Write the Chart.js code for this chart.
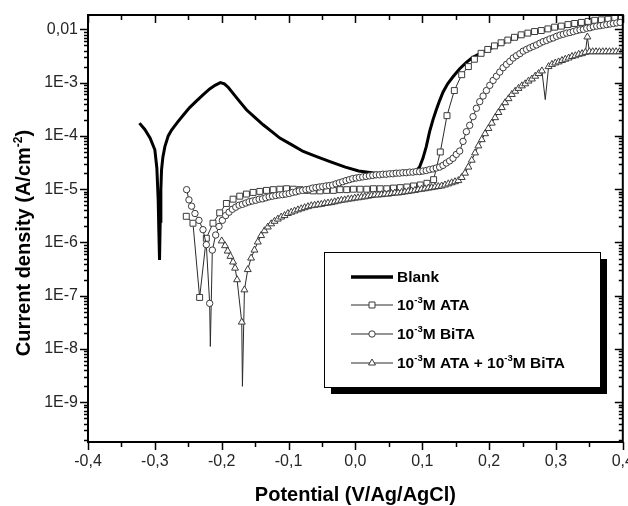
<!DOCTYPE html>
<html>
<head>
<meta charset="utf-8">
<script src="https://cdn.jsdelivr.net/npm/chart.js@4.4.1/dist/chart.umd.min.js"></script>
<style>
html,body{margin:0;padding:0;background:#fff;}
canvas{display:block;}
</style>
</head>
<body>
<canvas id="c" width="628" height="506"></canvas>
<script>
// ---------------- DATA ----------------
const seriesNames = ['Blank', '10^{-3}M ATA', '10^{-3}M BiTA', '10^{-3}M ATA + 10^{-3}M BiTA'];

const xTickValues = [-0.4, -0.3, -0.2, -0.1, 0.0, 0.1, 0.2, 0.3, 0.4];
const xTickLabels = ['-0,4', '-0,3', '-0,2', '-0,1', '0,0', '0,1', '0,2', '0,3', '0,4'];
const yTickValues = [1e-9, 1e-8, 1e-7, 1e-6, 1e-5, 1e-4, 1e-3, 1e-2];
const yTickLabels = ['1E-9', '1E-8', '1E-7', '1E-6', '1E-5', '1E-4', '1E-3', '0,01'];

const xTitle = 'Potential (V/Ag/AgCl)';
const yTitle = 'Current density (A/cm^{-2})';

// Blank
const blankV = [-0.323,-0.315,-0.307,-0.300,-0.297,-0.295,-0.294,-0.293,-0.292,-0.291,-0.290,-0.288,-0.285,-0.280,-0.275,-0.266,-0.257,-0.248,-0.238,-0.228,-0.218,-0.210,-0.202,-0.196,-0.190,-0.183,-0.173,-0.163,-0.150,-0.138,-0.125,-0.113,-0.095,-0.078,-0.058,-0.038,-0.015,0.005,0.030,0.056,0.080,0.091,0.096,0.101,0.106,0.111,0.116,0.121,0.126,0.131,0.138,0.146,0.156,0.166,0.175,0.190,0.210,0.230,0.250,0.280,0.310,0.340,0.370,0.400];
const blankI = [1.74e-4,1.32e-4,9.1e-5,5.5e-5,2.5e-5,6.3e-6,1.6e-6,4.7e-7,2.5e-6,1.0e-5,2.3e-5,4.0e-5,6.3e-5,1.0e-4,1.29e-4,1.82e-4,2.5e-4,3.4e-4,4.5e-4,5.9e-4,7.6e-4,8.9e-4,1.0e-3,9.5e-4,8.1e-4,6.3e-4,4.4e-4,3.1e-4,2.2e-4,1.62e-4,1.2e-4,9.1e-5,6.8e-5,5.1e-5,4.1e-5,3.3e-5,2.6e-5,2.2e-5,2.0e-5,2.0e-5,2.1e-5,2.2e-5,2.6e-5,3.8e-5,6.3e-5,1.2e-4,2.0e-4,3.1e-4,4.6e-4,6.6e-4,9.5e-4,1.29e-3,1.82e-3,2.4e-3,2.95e-3,3.7e-3,4.9e-3,6.3e-3,7.8e-3,9.5e-3,1.12e-2,1.29e-2,1.45e-2,1.58e-2];

// 10^-3 M ATA (squares)
const ataV = [-0.253,-0.243,-0.233,-0.223,-0.213,-0.203,-0.193,-0.183,-0.173,-0.163,-0.153,-0.143,-0.133,-0.123,-0.113,-0.103,-0.093,-0.083,-0.073,-0.063,-0.053,-0.043,-0.033,-0.023,-0.013,-0.003,0.007,0.017,0.027,0.037,0.047,0.057,0.067,0.077,0.087,0.097,0.107,0.117,0.127,0.137,0.148,0.159,0.169,0.178,0.188,0.198,0.208,0.218,0.228,0.238,0.248,0.258,0.268,0.278,0.288,0.298,0.308,0.318,0.328,0.338,0.348,0.358,0.368,0.378,0.388,0.398];
const ataI = [3.1e-6,2.3e-6,9.3e-8,1.2e-6,2.3e-6,3.6e-6,5.4e-6,6.5e-6,7.4e-6,8.1e-6,8.7e-6,9.1e-6,9.5e-6,9.8e-6,1.0e-5,1.02e-5,1.0e-5,9.8e-6,9.5e-6,9.3e-6,9.3e-6,9.5e-6,9.5e-6,9.8e-6,9.8e-6,1.0e-5,1.0e-5,1.0e-5,1.02e-5,1.02e-5,1.02e-5,1.05e-5,1.07e-5,1.1e-5,1.15e-5,1.2e-5,1.29e-5,1.51e-5,5.0e-5,2.4e-4,7.1e-4,1.41e-3,2.0e-3,2.75e-3,3.55e-3,4.2e-3,4.9e-3,5.6e-3,6.3e-3,7.1e-3,7.9e-3,8.5e-3,9.1e-3,9.5e-3,1.02e-2,1.1e-2,1.15e-2,1.23e-2,1.29e-2,1.35e-2,1.41e-2,1.48e-2,1.51e-2,1.55e-2,1.62e-2,1.66e-2];

// 10^-3 M BiTA (circles)
const bitaV = [-0.2525,-0.249,-0.245,-0.240,-0.234,-0.228,-0.223,-0.218,-0.217,-0.214,-0.209,-0.204,-0.199,-0.194,-0.189,-0.184,-0.179,-0.174,-0.169,-0.164,-0.159,-0.154,-0.149,-0.144,-0.139,-0.134,-0.129,-0.124,-0.119,-0.114,-0.109,-0.104,-0.099,-0.094,-0.089,-0.084,-0.079,-0.074,-0.069,-0.064,-0.059,-0.054,-0.049,-0.044,-0.039,-0.034,-0.029,-0.024,-0.019,-0.014,-0.009,-0.004,0.001,0.006,0.011,0.016,0.021,0.026,0.031,0.036,0.041,0.046,0.051,0.056,0.061,0.066,0.071,0.076,0.081,0.086,0.091,0.096,0.101,0.106,0.111,0.116,0.121,0.126,0.131,0.136,0.141,0.146,0.151,0.156,0.161,0.166,0.171,0.176,0.181,0.186,0.191,0.196,0.201,0.206,0.211,0.216,0.221,0.226,0.231,0.236,0.241,0.246,0.251,0.256,0.261,0.266,0.271,0.276,0.281,0.286,0.291,0.296,0.301,0.306,0.311,0.316,0.321,0.326,0.331,0.336,0.341,0.346,0.351,0.356,0.361,0.366,0.371,0.376,0.381,0.386,0.391,0.396];
const bitaI = [9.8e-6,6.3e-6,4.8e-6,3.5e-6,2.6e-6,1.74e-6,9.1e-7,7.2e-8,1.12e-8,7.2e-7,1.38e-6,2.0e-6,2.6e-6,3.2e-6,3.7e-6,4.2e-6,4.6e-6,5.0e-6,5.2e-6,5.5e-6,5.8e-6,6.0e-6,6.2e-6,6.5e-6,6.6e-6,6.9e-6,7.2e-6,7.4e-6,7.6e-6,7.8e-6,7.9e-6,8.1e-6,8.3e-6,8.7e-6,8.9e-6,9.3e-6,9.5e-6,9.8e-6,1.0e-5,1.05e-5,1.07e-5,1.1e-5,1.12e-5,1.15e-5,1.17e-5,1.2e-5,1.26e-5,1.32e-5,1.38e-5,1.45e-5,1.51e-5,1.58e-5,1.62e-5,1.66e-5,1.7e-5,1.74e-5,1.78e-5,1.82e-5,1.86e-5,1.86e-5,1.91e-5,1.91e-5,1.95e-5,1.95e-5,2.0e-5,2.0e-5,2.04e-5,2.04e-5,2.09e-5,2.09e-5,2.14e-5,2.14e-5,2.19e-5,2.24e-5,2.34e-5,2.4e-5,2.5e-5,2.6e-5,2.8e-5,3.1e-5,3.4e-5,3.8e-5,4.5e-5,5.2e-5,7.9e-5,1.2e-4,1.58e-4,2.3e-4,3.3e-4,4.4e-4,5.6e-4,7.1e-4,8.9e-4,1.1e-3,1.32e-3,1.58e-3,1.91e-3,2.2e-3,2.5e-3,2.9e-3,3.2e-3,3.5e-3,3.9e-3,4.2e-3,4.5e-3,4.8e-3,5.1e-3,5.5e-3,5.9e-3,6.2e-3,6.6e-3,6.9e-3,7.4e-3,7.8e-3,8.1e-3,8.5e-3,8.7e-3,9.1e-3,9.5e-3,9.8e-3,1.0e-2,1.05e-2,1.07e-2,1.12e-2,1.15e-2,1.17e-2,1.2e-2,1.23e-2,1.26e-2,1.29e-2,1.32e-2,1.35e-2];

// 10^-3 M ATA + 10^-3 M BiTA (triangles)
const mixV = [-0.200,-0.195,-0.191,-0.187,-0.183,-0.180,-0.177,-0.170,-0.169,-0.166,-0.161,-0.156,-0.151,-0.146,-0.141,-0.136,-0.131,-0.126,-0.121,-0.116,-0.111,-0.106,-0.101,-0.096,-0.091,-0.086,-0.081,-0.076,-0.071,-0.066,-0.061,-0.056,-0.051,-0.046,-0.041,-0.036,-0.031,-0.026,-0.021,-0.016,-0.011,-0.006,-0.001,0.004,0.009,0.014,0.019,0.024,0.029,0.034,0.039,0.044,0.049,0.054,0.059,0.064,0.069,0.074,0.079,0.084,0.089,0.094,0.099,0.104,0.109,0.114,0.119,0.124,0.129,0.134,0.139,0.144,0.149,0.154,0.159,0.164,0.169,0.174,0.179,0.184,0.189,0.194,0.199,0.204,0.209,0.214,0.219,0.224,0.229,0.234,0.239,0.244,0.249,0.254,0.259,0.264,0.269,0.274,0.279,0.284,0.289,0.294,0.299,0.304,0.309,0.314,0.319,0.324,0.329,0.334,0.339,0.344,0.347,0.350,0.355,0.360,0.365,0.370,0.375,0.380,0.385,0.390,0.395,0.400];
const mixI = [1.07e-6,8.7e-7,6.9e-7,5.5e-7,4.3e-7,3.3e-7,2.0e-7,3.2e-8,2.0e-9,1.29e-7,3.1e-7,5.1e-7,7.2e-7,1.02e-6,1.35e-6,1.66e-6,1.95e-6,2.24e-6,2.5e-6,2.75e-6,3.0e-6,3.2e-6,3.5e-6,3.7e-6,3.9e-6,4.1e-6,4.3e-6,4.5e-6,4.7e-6,4.9e-6,5.0e-6,5.1e-6,5.2e-6,5.4e-6,5.5e-6,5.6e-6,5.8e-6,6.0e-6,6.2e-6,6.3e-6,6.5e-6,6.6e-6,6.8e-6,6.9e-6,7.1e-6,7.2e-6,7.4e-6,7.6e-6,7.8e-6,7.8e-6,7.9e-6,8.1e-6,8.1e-6,8.3e-6,8.5e-6,8.5e-6,8.7e-6,8.9e-6,9.1e-6,9.3e-6,9.5e-6,9.8e-6,1.0e-5,1.02e-5,1.05e-5,1.07e-5,1.1e-5,1.12e-5,1.15e-5,1.2e-5,1.26e-5,1.32e-5,1.38e-5,1.45e-5,1.66e-5,2.0e-5,2.6e-5,3.5e-5,4.8e-5,6.5e-5,8.5e-5,1.1e-4,1.38e-4,1.74e-4,2.2e-4,2.75e-4,3.4e-4,4.2e-4,5.0e-4,6.0e-4,6.9e-4,7.8e-4,8.7e-4,9.5e-4,1.07e-3,1.17e-3,1.32e-3,1.48e-3,1.66e-3,4.8e-4,2.0e-3,2.2e-3,2.34e-3,2.45e-3,2.6e-3,2.75e-3,2.9e-3,3.1e-3,3.2e-3,3.4e-3,3.5e-3,3.7e-3,7.2e-3,3.8e-3,3.8e-3,3.8e-3,3.8e-3,3.8e-3,3.8e-3,3.8e-3,3.8e-3,3.8e-3,3.8e-3,3.8e-3];

// ---------------- RENDER ----------------
const FONT = "'Liberation Sans', Arial, Helvetica, sans-serif";
const pts = (v, i) => v.map((x, k) => ({ x: x, y: i[k] }));
const LINE = '#2a2a2a';
const MARK = '#3a3a3a';

// markers are not drawn on isolated downward spikes (line only), as in the original plot
function spikeAwareRadius(r) {
  return c => {
    const d = c.dataset && c.dataset.data;
    const i = c.dataIndex;
    if (!d || i === undefined || i <= 0 || i >= d.length - 1) return r;
    const y = d[i].y;
    return (y < 0.5 * d[i - 1].y && y < 0.5 * d[i + 1].y) ? 0 : r;
  };
}

function richParts(s) {
  const out = [];
  const re = /\^\{([^}]*)\}/g;
  let last = 0, m;
  while ((m = re.exec(s))) {
    if (m.index > last) out.push({ t: s.slice(last, m.index), sup: false });
    out.push({ t: m[1], sup: true });
    last = re.lastIndex;
  }
  if (last < s.length) out.push({ t: s.slice(last), sup: false });
  return out;
}
function richWidth(ctx, s, size, supSize) {
  let w = 0;
  for (const p of richParts(s)) {
    ctx.font = 'bold ' + (p.sup ? supSize : size) + 'px ' + FONT;
    w += ctx.measureText(p.t).width;
  }
  return w;
}
function drawRich(ctx, s, x, y, size, supSize, rise) {
  for (const p of richParts(s)) {
    ctx.font = 'bold ' + (p.sup ? supSize : size) + 'px ' + FONT;
    ctx.fillText(p.t, x, p.sup ? y - rise : y);
    x += ctx.measureText(p.t).width;
  }
}
function marker(ctx, style, x, y, r) {
  ctx.beginPath();
  if (style === 'rect') {
    const s = Math.SQRT1_2 * r;
    ctx.rect(x - s, y - s, 2 * s, 2 * s);
  } else if (style === 'circle') {
    ctx.arc(x, y, r, 0, Math.PI * 2);
  } else {
    ctx.moveTo(x, y - r);
    ctx.lineTo(x + r * Math.sin(Math.PI * 2 / 3), y - r * Math.cos(Math.PI * 2 / 3));
    ctx.lineTo(x - r * Math.sin(Math.PI * 2 / 3), y - r * Math.cos(Math.PI * 2 / 3));
    ctx.closePath();
  }
  ctx.fillStyle = '#fff';
  ctx.fill();
  ctx.lineWidth = 1;
  ctx.strokeStyle = MARK;
  ctx.stroke();
}

const framePlugin = {
  id: 'frame',
  afterDraw(chart) {
    const ctx = chart.ctx;
    const a = chart.chartArea;
    const xs = chart.scales.x, ys = chart.scales.y;
    ctx.save();
    ctx.strokeStyle = '#000';
    ctx.fillStyle = '#000';
    // frame
    ctx.lineWidth = 2;
    ctx.strokeRect(a.left, a.top, a.right - a.left, a.bottom - a.top);
    // x ticks
    ctx.lineWidth = 1.5;
    ctx.beginPath();
    xTickValues.forEach((v, k) => {
      const px = Math.round(xs.getPixelForValue(v)) + 0.5;
      ctx.moveTo(px, a.bottom); ctx.lineTo(px, a.bottom + 8);
      ctx.moveTo(px, a.top); ctx.lineTo(px, a.top + 8);
      if (k < xTickValues.length - 1) {
        const pm = Math.round(xs.getPixelForValue((v + xTickValues[k + 1]) / 2)) + 0.5;
        ctx.moveTo(pm, a.bottom); ctx.lineTo(pm, a.bottom + 5);
        ctx.moveTo(pm, a.top); ctx.lineTo(pm, a.top + 5);
      }
    });
    // y ticks
    const decades = [yTickValues[0] / 10].concat(yTickValues);
    decades.forEach(d => {
      for (let m = 1; m <= 9; m++) {
        const v = d * m;
        if (v < ys.min || v > ys.max) continue;
        const py = Math.round(ys.getPixelForValue(v)) + 0.5;
        const len = m === 1 ? 8 : 4;
        ctx.moveTo(a.left, py); ctx.lineTo(a.left - len, py);
        ctx.moveTo(a.right, py); ctx.lineTo(a.right - len, py);
      }
    });
    ctx.stroke();
    // tick labels
    ctx.fillStyle = '#262626';
    ctx.font = '16px ' + FONT;
    ctx.textAlign = 'center';
    ctx.textBaseline = 'middle';
    xTickValues.forEach((v, k) => {
      ctx.fillText(xTickLabels[k], xs.getPixelForValue(v), a.bottom + 20);
    });
    ctx.textAlign = 'right';
    yTickValues.forEach((v, k) => {
      ctx.fillText(yTickLabels[k], a.left - 10, ys.getPixelForValue(v));
    });
    // axis titles
    ctx.fillStyle = '#000';
    ctx.textBaseline = 'alphabetic';
    ctx.textAlign = 'left';
    const tw = richWidth(ctx, xTitle, 20, 12);
    drawRich(ctx, xTitle, (a.left + a.right) / 2 - tw / 2, 501, 20, 12, 8);
    ctx.save();
    ctx.translate(30, 243);
    ctx.rotate(-Math.PI / 2);
    const yw = richWidth(ctx, yTitle, 20, 12);
    drawRich(ctx, yTitle, -yw / 2, 0, 20, 12, 8);
    ctx.restore();

    // legend
    const L = { x: 324, y: 252, w: 276, h: 135 };
    ctx.fillStyle = '#000';
    ctx.fillRect(L.x + 7, L.y + 7, L.w, L.h);
    ctx.fillStyle = '#fff';
    ctx.fillRect(L.x, L.y, L.w, L.h);
    ctx.lineWidth = 1;
    ctx.strokeStyle = '#000';
    ctx.strokeRect(L.x + 0.5, L.y + 0.5, L.w, L.h);
    const rows = [277, 305, 334, 363];
    const styles = [null, 'rect', 'circle', 'triangle'];
    const radii = [0, 4.2, 3.2, 4];
    rows.forEach((ry, k) => {
      ctx.beginPath();
      ctx.moveTo(351, ry); ctx.lineTo(393, ry);
      ctx.lineWidth = k === 0 ? 3.5 : 1;
      ctx.strokeStyle = k === 0 ? '#000' : LINE;
      ctx.stroke();
      if (styles[k]) marker(ctx, styles[k], 372, ry, radii[k]);
      ctx.fillStyle = '#000';
      ctx.textBaseline = 'middle';
      drawRich(ctx, seriesNames[k], 397, ry + 1, 15.5, 9.5, 6);
    });
    ctx.restore();
  }
};

const chart = new Chart(document.getElementById('c'), {
  type: 'line',
  data: {
    datasets: [
      { label: seriesNames[0], data: pts(blankV, blankI), borderColor: '#000', borderWidth: 3, pointRadius: 0, tension: 0, order: 4 },
      { label: seriesNames[1], data: pts(ataV, ataI), borderColor: LINE, borderWidth: 1, pointStyle: 'rect', pointRadius: 4.2,
        pointBackgroundColor: '#fff', pointBorderColor: MARK, pointBorderWidth: 1, tension: 0, order: 3 },
      { label: seriesNames[2], data: pts(bitaV, bitaI), borderColor: LINE, borderWidth: 1, pointStyle: 'circle',
        pointRadius: spikeAwareRadius(3.2),
        pointBackgroundColor: '#fff', pointBorderColor: MARK, pointBorderWidth: 1, tension: 0, order: 2 },
      { label: seriesNames[3], data: pts(mixV, mixI), borderColor: LINE, borderWidth: 1, pointStyle: 'triangle',
        pointRadius: spikeAwareRadius(4),
        pointBackgroundColor: '#fff', pointBorderColor: MARK, pointBorderWidth: 1, tension: 0, order: 1 }
    ]
  },
  options: {
    responsive: false,
    animation: false,
    devicePixelRatio: 1,
    layout: { padding: { left: 0, right: 5, top: 15, bottom: 0 } },
    plugins: { legend: { display: false }, tooltip: { enabled: false } },
    scales: {
      x: {
        type: 'linear', min: -0.4, max: 0.4, bounds: 'data',
        grid: { display: false }, border: { display: false }, ticks: { display: false },
        afterFit: s => { s.height = 64; }
      },
      y: {
        type: 'logarithmic', min: 1.8e-10, max: 0.0186, bounds: 'data',
        grid: { display: false }, border: { display: false }, ticks: { display: false },
        afterFit: s => { s.width = 88; }
      }
    }
  },
  plugins: [framePlugin]
});
</script>
</body>
</html>
